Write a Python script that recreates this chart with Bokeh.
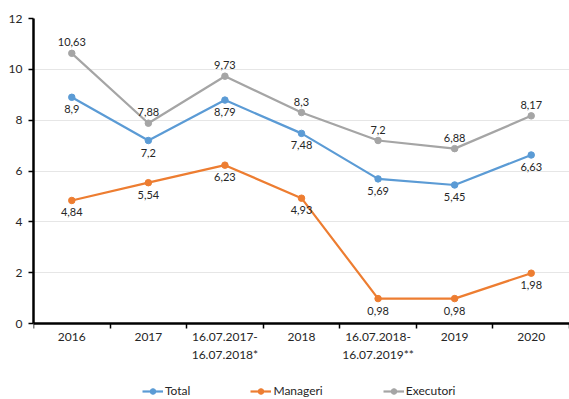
from bokeh.plotting import figure
from bokeh.models import FixedTicker, Range1d, Legend, LegendItem, ColumnDataSource
from bokeh.core.properties import value
from bokeh.embed import file_html
from bokeh.resources import INLINE

categories = ["2016", "2017", "16.07.2017-\n16.07.2018*", "2018",
              "16.07.2018-\n16.07.2019**", "2019", "2020"]
total = [8.9, 7.2, 8.79, 7.48, 5.69, 5.45, 6.63]
manageri = [4.84, 5.54, 6.23, 4.93, 0.98, 0.98, 1.98]
executori = [10.63, 7.88, 9.73, 8.3, 7.2, 6.88, 8.17]
y_ticks = [0, 2, 4, 6, 8, 10, 12]

FONT = "Lato"
TXT = "#262626"
Y_MAX = 12
PLOT_H = 305      # pixel height of the 0..12 value span
BOTTOM_PX = 76    # room below the zero line for tick labels and legend
y_min = -BOTTOM_PX / PLOT_H * Y_MAX

p = figure(frame_width=536, frame_height=PLOT_H + BOTTOM_PX, output_backend="svg",
           toolbar_location=None,
           x_range=Range1d(0, len(categories)), y_range=Range1d(y_min, Y_MAX),
           min_border_left=33, min_border_right=0, min_border_top=18, min_border_bottom=0)
p.outline_line_color = None
p.background_fill_color = "white"

xs = [i + 0.5 for i in range(len(categories))]

series = [("Total", total, "#5B9BD5", "below"),
          ("Manageri", manageri, "#ED7D31", "below"),
          ("Executori", executori, "#A5A5A5", "above")]
items = []
for name, vals, col, pos in series:
    src = ColumnDataSource(dict(x=xs, y=vals, lab=[str(v).replace(".", ",") for v in vals]))
    l = p.line("x", "y", source=src, line_color=col, line_width=2.2)
    c = p.scatter("x", "y", source=src, size=6.5, fill_color=col, line_color=col)
    if pos == "below":
        p.text("x", "y", text="lab", source=src, text_font=value(FONT), text_font_size="11px",
               text_color=TXT, text_align="center", text_baseline="top", y_offset=8)
    else:
        p.text("x", "y", text="lab", source=src, text_font=value(FONT), text_font_size="11px",
               text_color=TXT, text_align="center", text_baseline="bottom", y_offset=-7)
    items.append(LegendItem(label=name, renderers=[l, c]))

xt = FixedTicker(ticks=xs, minor_ticks=list(range(len(categories) + 1)))
p.xaxis.ticker = xt
p.xaxis.fixed_location = 0
p.xaxis.major_label_overrides = {x: c for x, c in zip(xs, categories)}
p.xaxis.major_tick_line_color = None
p.xaxis.major_tick_out = 0
p.xaxis.major_tick_in = 0
p.xaxis.minor_tick_line_color = "black"
p.xaxis.minor_tick_line_width = 1.5
p.xaxis.minor_tick_out = 5
p.xaxis.minor_tick_in = 0
p.xaxis.axis_line_width = 2.5
p.xaxis.axis_line_color = "black"
p.xaxis.major_label_text_font = FONT
p.xaxis.major_label_text_font_size = "12px"
p.xaxis.major_label_text_color = TXT
p.xaxis.major_label_standoff = 0

p.yaxis.ticker = FixedTicker(ticks=y_ticks)
p.yaxis.bounds = (0, Y_MAX)
p.yaxis.axis_line_width = 2.5
p.yaxis.axis_line_color = "black"
p.yaxis.major_tick_out = 5
p.yaxis.major_tick_in = 0
p.yaxis.major_tick_line_width = 1.5
p.yaxis.minor_tick_line_color = None
p.yaxis.major_label_text_font = FONT
p.yaxis.major_label_text_font_size = "12px"
p.yaxis.major_label_text_color = TXT
p.yaxis.major_label_standoff = 6

p.xgrid.grid_line_color = None
p.ygrid.grid_line_color = "#E6E6E6"
p.ygrid.grid_line_width = 1

legend = Legend(items=items, orientation="horizontal", location=(109, 1),
                label_text_font=FONT, label_text_font_size="12px", label_text_color=TXT,
                glyph_width=21, glyph_height=14, label_height=14, spacing=60,
                border_line_color=None, background_fill_alpha=0, margin=0,
                label_standoff=2, padding=1)
p.add_layout(legend, "center")

open("out.html", "w").write(file_html(p, INLINE))
